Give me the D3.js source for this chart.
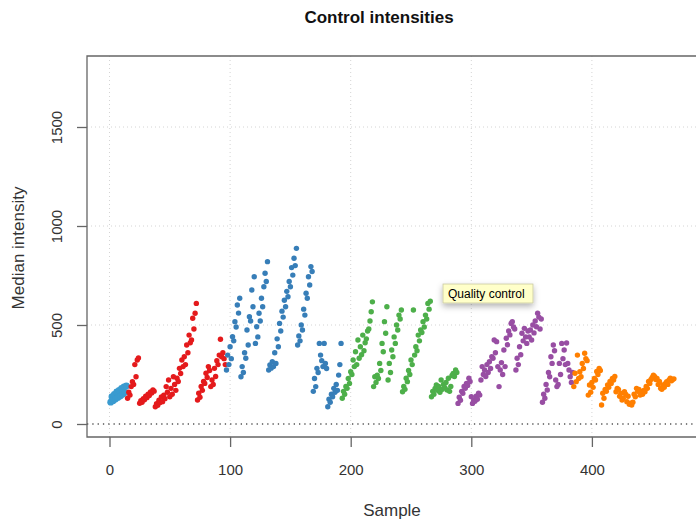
<!DOCTYPE html>
<html>
<head>
<meta charset="utf-8">
<script src="https://cdn.jsdelivr.net/npm/d3@7"></script>
<style>
  body { margin: 0; background: #fff; }
  svg { display: block; }
</style>
</head>
<body>
<script>
// Median control intensity per sample, grouped by batch (samples numbered consecutively)
const batchNames  = ["reference", "batch1", "batch2", "batch3", "batch4", "batch5"];
const batchColors = ["#3A9BD0", "#E41A1C", "#377EB8", "#4DAF4A", "#984EA3", "#FF7F00"];

const referenceValues = [110,138,118,150,126,162,134,170,142,180,150,188,160,192];

const batch1Values = [
  130,160,146,189,214,200,300,239,323,333,
  105,118,110,128,122,140,133,150,144,162,156,172,166,
  87,102,95,120,108,136,113,146,128,189,160,222,138,180,150,239,200,170,231,215,281,255,323,290,340,300,399,360,449,410,424,534,480,559,609,
  121,155,135,190,170,215,205,256,235,290,270,189,222,200,281,240,320,300,348,428,340,360,330,300
];

const batch2Values = [
  273,348,300,390,330,441,420,517,490,601,560,635,
  239,290,260,360,332,475,399,542,520,677,592,744,407,491,440,559,520,635,592,693,761,720,820,
  273,298,282,315,290,360,306,430,390,508,470,570,540,625,592,670,643,720,693,790,752,837,800,887,
  399,445,420,500,475,580,550,660,635,744,702,795,770,
  165,230,189,281,260,407,348,320,290,407,306,280,
  87,125,110,150,138,180,160,200,170,247,300,407
];

const batch3Values = [
  130,165,150,190,180,230,205,264,250,323,290,365,300,424,332,390,350,449,370,410,430,470,480,520,567,617,
  189,239,210,247,230,306,270,407,365,517,458,592,
  222,306,260,374,340,440,407,500,475,550,530,576,
  163,190,175,231,214,270,250,323,300,576,348,390,370,449,420,475,462,517,490,550,530,609,580,620,
  138,165,150,180,197,170,190,160,222,175,200,185,210,172,231,165,190,245,255,240,273,260
];

const batch4Values = [
  104,135,120,165,155,190,180,205,195,231,215,
  138,104,120,115,140,125,155,146,222,290,250,273,240,300,260,315,280,340,332,424,360,416,290,189,273,310,250,374,290,433,400,470,450,508,517,490,480,
  273,332,300,390,350,458,420,483,440,407,470,440,475,424,500,460,520,491,559,540,480,530,
  110,150,130,200,172,260,239,340,306,399,370,222,189,200,306,250,407,330,374,300,409,306,273,239,210,260
];

const batch5Values = [
  189,256,214,348,230,264,239,306,280,357,330,320,
  146,197,160,210,185,230,222,265,250,281,270,
  96,155,130,175,165,197,185,215,205,230,222,240,
  163,180,175,140,155,121,130,163,150,113,140,100,105,96,
  110,150,138,180,165,175,146,163,150,170,163,190,180,215,205,225,
  235,247,240,225,230,200,215,180,
  175,197,185,205,214,200,222,231,218,225,228
];

const xTicks = [0, 100, 200, 300, 400];
const yTicks = [0, 500, 1000, 1500];

// Flatten into one sequence of samples
const groups = [referenceValues, batch1Values, batch2Values, batch3Values, batch4Values, batch5Values];
const points = [];
let sampleNo = 1;
groups.forEach((vals, g) => {
  vals.forEach(v => points.push({ sample: sampleNo++, value: v, batch: g }));
});

const W = 696, H = 522;
const frame = { left: 87, top: 56, right: 697, bottom: 437 };

const x = d3.scaleLinear().domain([0, 400]).range([109.5, 591.9]);
const y = d3.scaleLinear().domain([0, 1500]).range([424, 127]);
const color = d3.scaleOrdinal().domain(d3.range(groups.length)).range(batchColors);

const svg = d3.select("body").append("svg")
  .attr("width", W).attr("height", H)
  .style("font-family", "'Liberation Sans', Arial, Helvetica, sans-serif");

const defs = svg.append("defs");
const shadow = defs.append("filter").attr("id", "tipShadow")
  .attr("x", "-20%").attr("y", "-30%").attr("width", "140%").attr("height", "220%");
shadow.append("feDropShadow").attr("dx", 0).attr("dy", 3).attr("stdDeviation", 3)
  .attr("flood-color", "#000").attr("flood-opacity", 0.3);
defs.append("clipPath").attr("id", "plotClip").append("rect")
  .attr("x", frame.left).attr("y", frame.top)
  .attr("width", frame.right - frame.left).attr("height", frame.bottom - frame.top);

// Title
svg.append("text")
  .attr("x", 379).attr("y", 23)
  .attr("text-anchor", "middle")
  .style("font-size", "17px").style("font-weight", "bold").style("fill", "#111")
  .text("Control intensities");

// Dotted grid
const grid = svg.append("g").attr("clip-path", "url(#plotClip)");
grid.selectAll("line.vgrid").data(xTicks).join("line")
  .attr("x1", d => x(d)).attr("x2", d => x(d))
  .attr("y1", frame.top).attr("y2", frame.bottom)
  .attr("stroke", "#d4d4d4").attr("stroke-width", 1).attr("stroke-dasharray", "1,3");
grid.selectAll("line.hgrid").data(yTicks.filter(d => d > 0)).join("line")
  .attr("x1", frame.left).attr("x2", frame.right)
  .attr("y1", d => y(d)).attr("y2", d => y(d))
  .attr("stroke", "#d4d4d4").attr("stroke-width", 1).attr("stroke-dasharray", "1,3");
// Zero reference line
grid.append("line")
  .attr("x1", frame.left).attr("x2", frame.right)
  .attr("y1", y(0)).attr("y2", y(0))
  .attr("stroke", "#555").attr("stroke-width", 1.3).attr("stroke-dasharray", "1.3,4");

// Points
svg.append("g").attr("clip-path", "url(#plotClip)")
  .selectAll("circle").data(points).join("circle")
  .attr("cx", d => x(d.sample))
  .attr("cy", d => y(d.value))
  .attr("r", d => d.batch === 0 ? 3.4 : 2.7)
  .attr("fill", d => color(d.batch));

// Frame
svg.append("path")
  .attr("d", `M${frame.right},${frame.top}H${frame.left}V${frame.bottom}H${frame.right}`)
  .attr("fill", "none").attr("stroke", "#666").attr("stroke-width", 1.3);

// Y axis
const yAxis = svg.append("g")
  .attr("transform", `translate(${frame.left},0)`)
  .call(d3.axisLeft(y).tickValues(yTicks).tickSize(10).tickFormat(d3.format("d")));
yAxis.select(".domain").remove();
yAxis.selectAll(".tick line").attr("stroke", "#666").attr("stroke-width", 1.3);
yAxis.selectAll(".tick text")
  .attr("x", null).attr("dy", null)
  .attr("transform", "translate(-25,0) rotate(-90)")
  .attr("text-anchor", "middle")
  .style("font-size", "15px").style("fill", "#333").style("font-family", "inherit");

// X axis
const xAxis = svg.append("g")
  .attr("transform", `translate(0,${frame.bottom})`)
  .call(d3.axisBottom(x).tickValues(xTicks).tickSize(10).tickPadding(17).tickFormat(d3.format("d")));
xAxis.select(".domain").remove();
xAxis.selectAll(".tick line").attr("stroke", "#666").attr("stroke-width", 1.3);
xAxis.selectAll(".tick text")
  .style("font-size", "15px").style("fill", "#333").style("font-family", "inherit");

// Axis titles
svg.append("text")
  .attr("x", 392).attr("y", 516)
  .attr("text-anchor", "middle")
  .style("font-size", "17px").style("fill", "#333")
  .text("Sample");
svg.append("text")
  .attr("transform", "translate(24,248) rotate(-90)")
  .attr("text-anchor", "middle")
  .style("font-size", "17px").style("fill", "#333")
  .text("Median intensity");

// Hover tip
const tip = svg.append("g").attr("transform", "translate(443,284)");
tip.append("rect")
  .attr("width", 90).attr("height", 19)
  .attr("fill", "#FFFFC9").attr("stroke", "#c9c9a0").attr("stroke-width", 0.8)
  .attr("filter", "url(#tipShadow)");
tip.append("text")
  .attr("x", 5).attr("y", 14)
  .style("font-size", "12px").style("fill", "#000")
  .text("Quality control");
</script>
</body>
</html>
